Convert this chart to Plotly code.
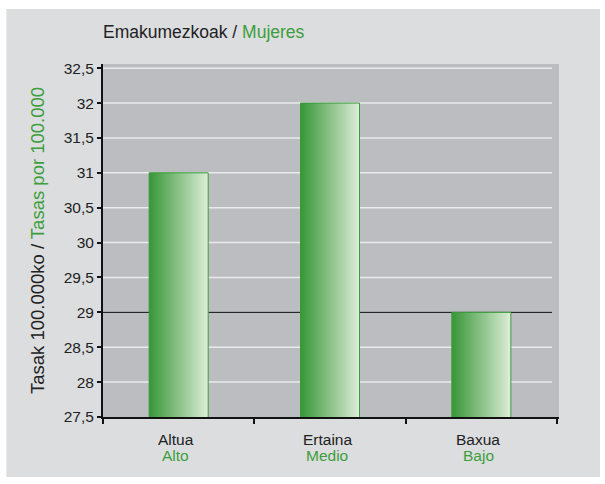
import plotly.graph_objects as go

categories = ["Altua", "Ertaina", "Baxua"]
categories_es = ["Alto", "Medio", "Bajo"]
values = [31, 32, 29]
y_ticks = [27.5, 28, 28.5, 29, 29.5, 30, 30.5, 31, 31.5, 32, 32.5]
y_ticklabels = ["27,5", "28", "28,5", "29", "29,5", "30", "30,5", "31", "31,5", "32", "32,5"]
reference_line = 29

GREEN = "#3c9e3c"
DARK = "#222222"
FONT = "Liberation Sans"

# gradient strips across each bar
N = 30
bar_w = 0.39
left_rgb = (58, 152, 58)
right_rgb = (218, 236, 213)

fig = go.Figure()
sw = bar_w / N
for i in range(N):
    t = i / (N - 1)
    c = tuple(round(left_rgb[k] + (right_rgb[k] - left_rgb[k]) * t) for k in range(3))
    off = -bar_w / 2 + i * sw
    wid = min(2 * sw, bar_w / 2 - off)
    fig.add_trace(go.Bar(
        x=categories, y=values, width=wid, offset=off,
        marker=dict(color="rgb(%d,%d,%d)" % c, line=dict(width=0)),
        showlegend=False, hoverinfo="skip"))
fig.add_trace(go.Bar(
    x=categories, y=values, width=bar_w, offset=-bar_w / 2,
    marker=dict(color="rgba(0,0,0,0)", line=dict(color="#3a9a3a", width=1)),
    showlegend=False))

# plot geometry (pixels)
W, H = 605, 484
L, R, T, B = 102.7, 559, 64, 417
pw, ph = R - L, B - T

def px(x):
    return (x - L) / pw

def py(y):
    return (B - y) / ph

shapes = [
    dict(type="rect", xref="paper", yref="paper", x0=px(6), x1=px(600), y0=py(477), y1=py(9),
         fillcolor="#dcdddf", line=dict(width=0), layer="below"),
    dict(type="rect", xref="paper", yref="paper", x0=0, x1=1, y0=0, y1=1,
         fillcolor="#bcbdc1", line=dict(width=0), layer="below"),
]
for v in y_ticks[1:]:
    if v == reference_line:
        continue
    shapes.append(dict(type="line", xref="paper", yref="y", x0=0, x1=px(552), y0=v, y1=v,
                       line=dict(color="#ebebed", width=1.5), layer="below"))
shapes.append(dict(type="line", xref="paper", yref="y", x0=0, x1=px(552), y0=reference_line,
                   y1=reference_line, line=dict(color="#111111", width=1), layer="below"))

annotations = []
for a, b in zip(categories, categories_es):
    annotations.append(dict(x=a, y=py(439), xref="x", yref="paper", text=a, showarrow=False,
                            xshift=-3, yanchor="middle", font=dict(size=15.5, color=DARK)))
    annotations.append(dict(x=a, y=py(455.7), xref="x", yref="paper", text=b, showarrow=False,
                            xshift=-3, yanchor="middle", font=dict(size=15.5, color=GREEN)))

fig.update_layout(
    width=W, height=H,
    margin=dict(l=L, r=W - R, t=T, b=H - B, pad=0),
    paper_bgcolor="white", plot_bgcolor="rgba(0,0,0,0)",
    barmode="overlay",
    font=dict(family=FONT, size=15.5, color=DARK),
    shapes=shapes,
    annotations=annotations,
    title=dict(text="Emakumezkoak / <span style='color:%s'>Mujeres</span>" % GREEN,
               x=0, xref="paper", xanchor="left", y=1 - 32 / H, yref="container",
               yanchor="middle", font=dict(family=FONT, size=17.5, color=DARK)),
    xaxis=dict(type="category", range=[-0.5, 2.513], tickvals=categories,
               ticktext=["", "", ""],
               tickson="boundaries", ticks="outside", ticklen=5, tickwidth=2, tickcolor="#111",
               showline=True, linecolor="#111", linewidth=2, showgrid=False),
    yaxis=dict(range=[27.5, 32.56], tickvals=y_ticks, ticktext=y_ticklabels,
               ticks="outside", ticklen=4, tickwidth=1.5, tickcolor="#111",
               showline=True, linecolor="#111", linewidth=2, showgrid=False, zeroline=False,
               tickfont=dict(size=15.5, color=DARK),
               title=dict(text="Tasak 100.000ko / <span style='color:%s'>Tasas por 100.000</span>" % GREEN,
                          font=dict(size=18.5, color=DARK), standoff=14)),
)

fig.write_html("out.html", config={"displayModeBar": False},
               post_script="document.body.style.margin='0';")
